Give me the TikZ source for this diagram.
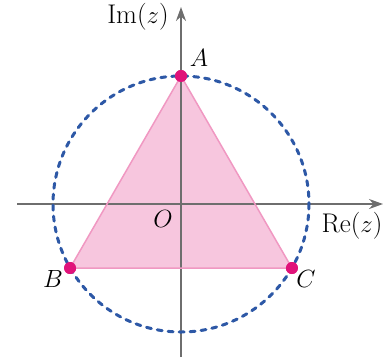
\documentclass[tikz,border=0pt]{standalone}
\usetikzlibrary{arrows.meta}
\definecolor{trifill}{HTML}{F7C6DE}
\definecolor{triedge}{HTML}{F098C2}
\definecolor{dotc}{HTML}{E0137A}
\definecolor{circc}{HTML}{2D58A6}
\definecolor{axisc}{HTML}{6E6E6E}
\tikzset{
  axisline/.style={draw=axisc, line width=2pt, -{Stealth[length=14pt,width=10pt]}},
  vertexdot/.style={circle, fill=dotc, inner sep=0pt, minimum size=12pt},
  lbl/.style={font=\fontsize{27}{32}\selectfont},
}
\begin{document}
\begin{tikzpicture}[x=1pt,y=-1pt]
\useasboundingbox (0,0) rectangle (390,357);
\coordinate (O) at (181,204);
\coordinate (xs) at (17,204);
\coordinate (xe) at (383,204);
\coordinate (ys) at (181,357);
\coordinate (ye) at (181,7);
\node[vertexdot] (A) at (181,76) {};
\node[vertexdot] (B) at (70.1,268) {};
\node[vertexdot] (C) at (291.9,268) {};
\fill[trifill] (A.center) -- (B.center) -- (C.center) -- cycle;
\draw[axisline] (xs) -- (xe);
\draw[axisline] (ys) -- (ye);
\draw[triedge, line width=1.5pt, line join=round] (A.center) -- (B.center) -- (C.center) -- cycle;
\draw[circc, line width=3pt, dash pattern=on 5pt off 6pt, line cap=round] (O) circle[radius=128];
\node[vertexdot] at (A) {};
\node[vertexdot] at (B) {};
\node[vertexdot] at (C) {};
\node[lbl] (la) at (199,58) {$A$};
\node[lbl] (lb) at (53,279) {$B$};
\node[lbl] (lc) at (306,279) {$C$};
\node[lbl] (lo) at (163,219) {$O$};
\node[lbl] (lre) at (352,226) {Re($z$)};
\node[lbl] (lim) at (138,17) {Im($z$)};
\end{tikzpicture}
\end{document}
